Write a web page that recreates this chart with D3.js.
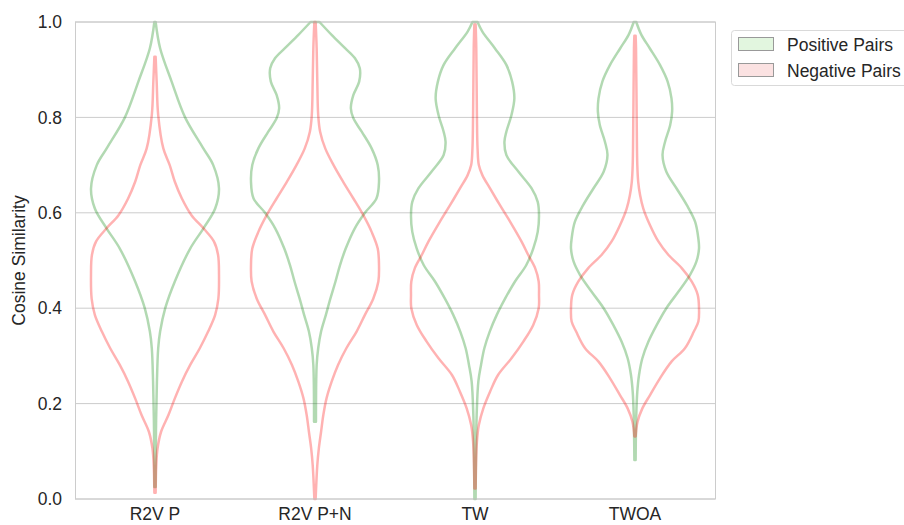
<!DOCTYPE html>
<html><head><meta charset="utf-8">
<script src="https://cdn.jsdelivr.net/npm/d3@7"></script>
<style>
html,body{margin:0;padding:0;background:#fff;}
svg{display:block;font-family:"Liberation Sans",Arial,sans-serif;}
</style></head>
<body>
<svg id="chart" width="904" height="525"></svg>
<script>
const categories = ["R2V P", "R2V P+N", "TW", "TWOA"];
const seriesNames = ["Positive Pairs", "Negative Pairs"];
const yTicks = [0.0, 0.2, 0.4, 0.6, 0.8, 1.0];
const yLabel = "Cosine Similarity";

// [cosine similarity, relative density]
const posR2VP = [[1.0,0.01],[0.945,0.08],[0.875,0.26],[0.80,0.47],[0.735,0.755],[0.70,0.91],[0.651,1.0],[0.609,0.94],[0.567,0.755],[0.525,0.55],[0.456,0.31],[0.40,0.16],[0.351,0.08],[0.316,0.05],[0.246,0.03],[0.141,0.015],[0.025,0.01]];
const negR2VP = [[0.927,0.01],[0.875,0.026],[0.805,0.05],[0.735,0.13],[0.70,0.23],[0.665,0.31],[0.63,0.42],[0.595,0.57],[0.567,0.76],[0.54,0.92],[0.512,0.985],[0.47,1.0],[0.42,0.99],[0.386,0.94],[0.351,0.83],[0.316,0.70],[0.281,0.55],[0.246,0.42],[0.211,0.31],[0.176,0.21],[0.141,0.095],[0.106,0.04],[0.071,0.02],[0.013,0.01]];
const posR2VPN = [[1.0,0.07],[0.973,0.26],[0.945,0.47],[0.924,0.625],[0.903,0.70],[0.875,0.69],[0.847,0.60],[0.819,0.56],[0.798,0.60],[0.77,0.73],[0.735,0.885],[0.70,0.98],[0.665,1.0],[0.63,0.96],[0.60,0.78],[0.567,0.62],[0.525,0.48],[0.49,0.39],[0.456,0.32],[0.42,0.24],[0.386,0.17],[0.351,0.095],[0.316,0.05],[0.281,0.026],[0.162,0.015]];
const negR2VPN = [[1.0,0.01],[0.945,0.026],[0.875,0.036],[0.805,0.05],[0.77,0.08],[0.735,0.16],[0.70,0.29],[0.665,0.44],[0.63,0.60],[0.595,0.755],[0.56,0.885],[0.525,0.98],[0.49,1.0],[0.456,0.99],[0.42,0.91],[0.386,0.78],[0.351,0.65],[0.316,0.49],[0.281,0.36],[0.246,0.26],[0.211,0.18],[0.176,0.13],[0.141,0.095],[0.106,0.06],[0.071,0.036],[0.0,0.01]];
const posTW = [[1.0,0.04],[0.98,0.115],[0.945,0.31],[0.91,0.49],[0.875,0.58],[0.84,0.615],[0.805,0.57],[0.77,0.49],[0.749,0.46],[0.721,0.49],[0.686,0.68],[0.651,0.885],[0.623,0.98],[0.595,1.0],[0.56,0.98],[0.525,0.91],[0.49,0.80],[0.456,0.625],[0.42,0.47],[0.386,0.34],[0.351,0.23],[0.316,0.146],[0.281,0.094],[0.246,0.052],[0.176,0.026],[0.106,0.016],[0.0,0.01]];
const negTW = [[0.995,0.01],[0.945,0.02],[0.805,0.03],[0.735,0.04],[0.70,0.06],[0.679,0.115],[0.651,0.235],[0.616,0.39],[0.581,0.55],[0.539,0.73],[0.512,0.83],[0.484,0.94],[0.456,0.995],[0.428,1.0],[0.40,0.995],[0.365,0.91],[0.33,0.755],[0.295,0.57],[0.26,0.36],[0.225,0.235],[0.19,0.13],[0.155,0.06],[0.12,0.03],[0.022,0.01]];
const posTWOA = [[1.0,0.02],[0.973,0.10],[0.945,0.23],[0.91,0.39],[0.875,0.51],[0.84,0.57],[0.812,0.58],[0.784,0.55],[0.749,0.47],[0.721,0.43],[0.686,0.49],[0.651,0.65],[0.616,0.81],[0.581,0.94],[0.546,0.99],[0.525,1.0],[0.498,0.96],[0.47,0.86],[0.435,0.68],[0.40,0.49],[0.365,0.34],[0.33,0.21],[0.295,0.115],[0.26,0.063],[0.225,0.036],[0.176,0.02],[0.082,0.01]];
const negTWOA = [[0.971,0.01],[0.945,0.016],[0.805,0.026],[0.70,0.036],[0.665,0.05],[0.637,0.08],[0.609,0.13],[0.574,0.235],[0.54,0.365],[0.512,0.52],[0.484,0.73],[0.456,0.885],[0.428,0.98],[0.40,1.0],[0.372,0.99],[0.351,0.92],[0.316,0.78],[0.288,0.57],[0.253,0.39],[0.218,0.235],[0.19,0.115],[0.162,0.04],[0.131,0.01]];

const positive = [posR2VP, posR2VPN, posTW, posTWOA];
const negative = [negR2VP, negR2VPN, negTW, negTWOA];

const colors = {pos: "#008000", neg: "#ff0000"};
const legendFill = {pos: "#e2f6df", neg: "#fbe2e2"};

const svg = d3.select("#chart");
const margin = {left: 75, right: 189, top: 22, bottom: 26};
const W = 904, H = 525;
const FS = "17.5px";
const x = d3.scaleBand().domain(categories).range([margin.left, W - margin.right]).paddingInner(0).paddingOuter(0);
const y = d3.scaleLinear().domain([0, 1]).range([H - margin.bottom, margin.top]);
const w = d3.scaleLinear().domain([0, 1]).range([0, x.bandwidth() * 0.4]);

const textColor = "#262626";
const gridColor = "#cccccc";

// grid
svg.append("g").selectAll("line").data(yTicks).join("line")
  .attr("x1", margin.left).attr("x2", W - margin.right)
  .attr("y1", d => y(d)).attr("y2", d => y(d))
  .attr("stroke", gridColor).attr("stroke-width", 1);

// violins
function drawSet(sets, color, op) {
  sets.forEach((pts, i) => {
    const cx = x(categories[i]) + x.bandwidth() / 2;
    const area = d3.area()
      .y(d => y(d[0]))
      .x0(d => cx - w(d[1]))
      .x1(d => cx + w(d[1]))
      .curve(d3.curveCatmullRom.alpha(0.5));
    svg.append("path").datum(pts)
      .attr("d", area)
      .attr("fill", "none")
      .attr("stroke", color)
      .attr("stroke-opacity", op)
      .attr("stroke-width", 2.5)
      .attr("stroke-linejoin", "round");
  });
}
drawSet(positive, colors.pos, 0.3);
drawSet(negative, colors.neg, 0.3);

// frame
svg.append("rect")
  .attr("x", margin.left + 0.5).attr("y", margin.top)
  .attr("width", W - margin.right - margin.left).attr("height", H - margin.bottom - margin.top)
  .attr("fill", "none").attr("stroke", gridColor).attr("stroke-width", 1);

// axes
const yAxis = d3.axisLeft(y).tickValues(yTicks).tickFormat(d3.format(".1f")).tickSize(0).tickPadding(13);
const gy = svg.append("g").attr("transform", `translate(${margin.left},0)`).call(yAxis);
gy.select(".domain").remove();
gy.selectAll("text").attr("fill", textColor).style("font-size", FS).style("font-family", "Liberation Sans, Arial, sans-serif");

const xAxis = d3.axisBottom(x).tickSize(0).tickPadding(9);
const gx = svg.append("g").attr("transform", `translate(0,${H - margin.bottom})`).call(xAxis);
gx.select(".domain").remove();
gx.selectAll("text").attr("fill", textColor).style("font-size", FS).style("font-family", "Liberation Sans, Arial, sans-serif");

svg.append("text")
  .attr("transform", `translate(25,${(y(0) + y(1)) / 2}) rotate(-90)`)
  .attr("text-anchor", "middle")
  .attr("fill", textColor)
  .style("font-size", FS)
  .text(yLabel);

// legend
const lg = svg.append("g");
lg.append("rect").attr("x", 731.5).attr("y", 30.5).attr("width", 190).attr("height", 55)
  .attr("rx", 3).attr("fill", "#fff").attr("stroke", "#d9d9d9");
[["pos", seriesNames[0]], ["neg", seriesNames[1]]].forEach(([k, name], i) => {
  const yy = 37.5 + i * 26;
  lg.append("rect").attr("x", 738.5).attr("y", yy).attr("width", 35).attr("height", 13)
    .attr("fill", legendFill[k]).attr("stroke", "#999").attr("stroke-width", 1);
  lg.append("text").attr("x", 787).attr("y", yy + 13)
    .attr("fill", textColor).style("font-size", FS).text(name);
});
</script>
</body></html>
